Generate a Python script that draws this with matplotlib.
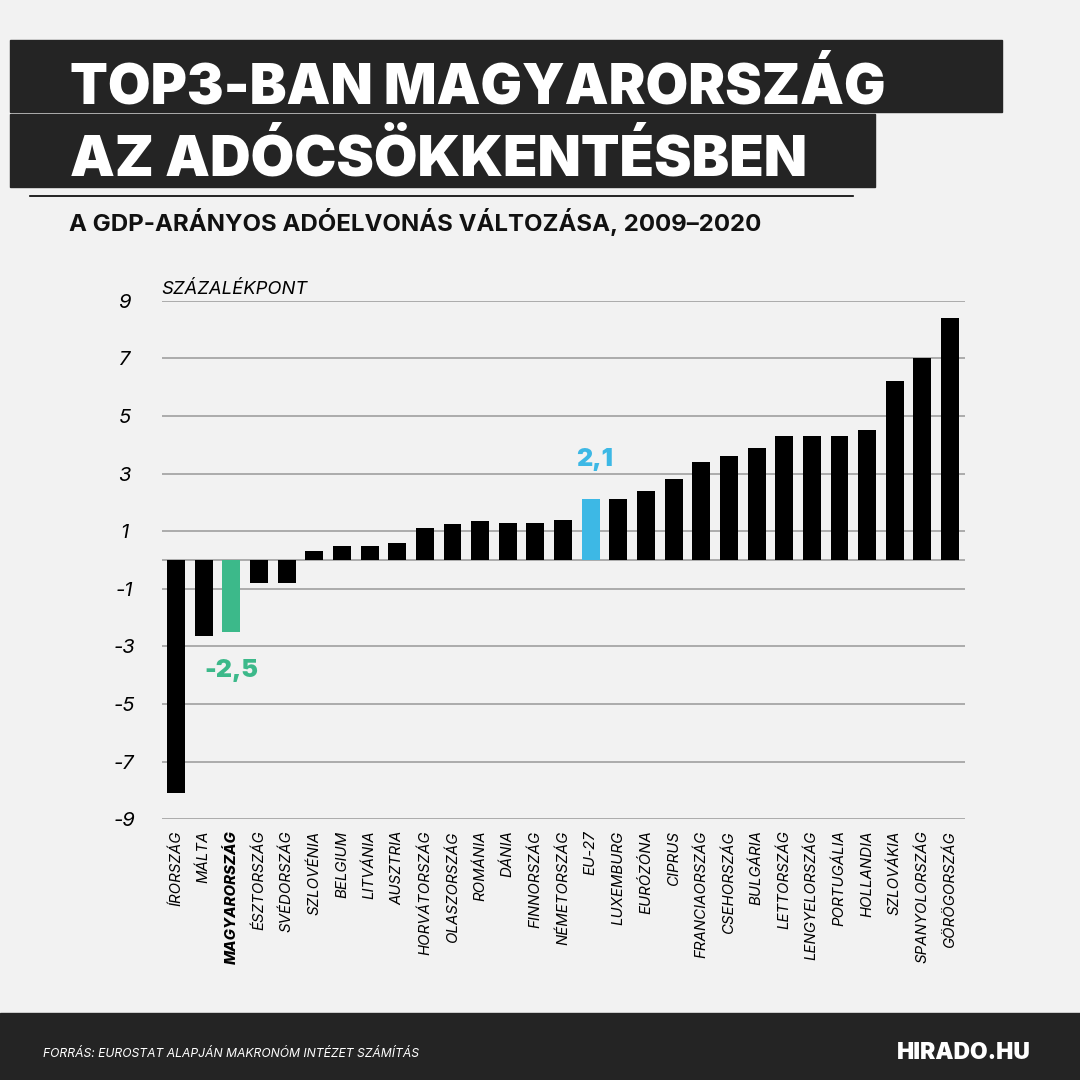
import matplotlib.pyplot as plt
from matplotlib.font_manager import FontProperties
from matplotlib.patches import Rectangle

# Adatok: GDP-arányos adóelvonás változása 2009-2020 (százalékpont)
COUNTRIES = [
    "ÍRORSZÁG", "MÁLTA", "MAGYARORSZÁG", "ÉSZTORSZÁG", "SVÉDORSZÁG",
    "SZLOVÉNIA", "BELGIUM", "LITVÁNIA", "AUSZTRIA", "HORVÁTORSZÁG",
    "OLASZORSZÁG", "ROMÁNIA", "DÁNIA", "FINNORSZÁG", "NÉMETORSZÁG",
    "EU-27", "LUXEMBURG", "EURÓZÓNA", "CIPRUS", "FRANCIAORSZÁG",
    "CSEHORSZÁG", "BULGÁRIA", "LETTORSZÁG", "LENGYELORSZÁG", "PORTUGÁLIA",
    "HOLLANDIA", "SZLOVÁKIA", "SPANYOLORSZÁG", "GÖRÖGORSZÁG",
]
VALUES = [
    -8.1, -2.65, -2.5, -0.8, -0.8,
    0.3, 0.5, 0.5, 0.6, 1.1,
    1.25, 1.35, 1.3, 1.3, 1.4,
    2.1, 2.1, 2.4, 2.8, 3.4,
    3.6, 3.9, 4.3, 4.3, 4.3,
    4.5, 6.2, 7.0, 8.4,
]
Y_TICKS = [9, 7, 5, 3, 1, -1, -3, -5, -7, -9]

HIGHLIGHT = {"MAGYARORSZÁG": "#3cb98a", "EU-27": "#3db8e5"}
LABEL_Y = {"MAGYARORSZÁG": -4.05, "EU-27": 3.27}

BG = "#f2f2f2"
DARK = "#242424"
FONT = "Inter"
W = H = 1080


def fp(size, weight="normal", style="normal"):
    return FontProperties(family=[FONT, "DejaVu Sans"], size=size,
                          weight=weight, style=style)


def fit_width(txt, target_px, renderer):
    """Scale the font size so the text is target_px wide."""
    for _ in range(3):
        bb = txt.get_window_extent(renderer=renderer)
        txt.set_fontsize(txt.get_fontsize() * target_px / bb.width)


def main() -> None:
    plt.rcParams["font.family"] = [FONT, "DejaVu Sans"]

    fig = plt.figure(figsize=(W / 100, H / 100), dpi=100, facecolor=BG)
    renderer = fig.canvas.get_renderer()

    # pixel overlay for boxes and headline texts
    bg = fig.add_axes([0, 0, 1, 1], zorder=0)
    bg.set_xlim(0, W)
    bg.set_ylim(H, 0)
    bg.axis("off")

    bg.add_patch(Rectangle((10, 40), 992, 72, color=DARK))
    bg.add_patch(Rectangle((10, 114), 865, 73, color=DARK))
    bg.add_patch(Rectangle((0, 1013), W, 67, color=DARK))
    bg.plot([30, 853], [196, 196], color="black", lw=1.2)

    t1 = bg.text(70, 104, "TOP3-BAN MAGYARORSZÁG", color="white",
                 fontproperties=fp(40, 900), va="baseline", ha="left")
    t2 = bg.text(70, 176, "AZ ADÓCSÖKKENTÉSBEN", color="white",
                 fontproperties=fp(40, 900), va="baseline", ha="left")
    t3 = bg.text(69, 231, "A GDP-ARÁNYOS ADÓELVONÁS VÁLTOZÁSA, 2009–2020",
                 color="#111111", fontproperties=fp(16, 700),
                 va="baseline", ha="left")
    t4 = bg.text(43, 1057, "FORRÁS: EUROSTAT ALAPJÁN MAKRONÓM INTÉZET SZÁMÍTÁS",
                 color="white", fontproperties=fp(9, style="italic"),
                 va="baseline", ha="left")
    t5 = bg.text(897, 1059, "HIRADO.HU", color="white",
                 fontproperties=fp(18, 900), va="baseline", ha="left")
    fit_width(t1, 815, renderer)
    fit_width(t2, 738, renderer)
    fit_width(t3, 693, renderer)
    fit_width(t4, 376, renderer)
    fit_width(t5, 133, renderer)

    # chart
    ax = fig.add_axes([161.7 / W, 1 - 819.3 / H, 803.3 / W, 518.6 / H], zorder=1)
    ax.patch.set_alpha(0)

    x = list(range(len(COUNTRIES)))
    colors = [HIGHLIGHT.get(c, "black") for c in COUNTRIES]
    ax.bar(x, VALUES, width=0.65, color=colors, zorder=3)

    for y in Y_TICKS + [0]:
        ax.axhline(y, color="#999999", lw=1.1, zorder=1)

    for name, col in HIGHLIGHT.items():
        i = COUNTRIES.index(name)
        lab = ax.text(i, LABEL_Y[name], f"{VALUES[i]:.1f}".replace(".", ","),
                      color=col, fontproperties=fp(18, 900),
                      ha="center", va="baseline", zorder=4)
        if name == "EU-27":
            lab.set_x(i + 0.15)

    ax.set_xlim(-0.52, len(COUNTRIES) - 0.46)
    ax.set_ylim(-9, 9)
    for s in ax.spines.values():
        s.set_visible(False)

    ax.set_yticks(Y_TICKS)
    ax.set_yticklabels([str(v) for v in Y_TICKS])
    ax.tick_params(axis="y", length=0, pad=27)
    for lab in ax.get_yticklabels():
        lab.set_fontproperties(fp(14.5, style="italic"))
        lab.set_horizontalalignment("center")

    ax.set_xticks(x)
    ax.set_xticklabels(COUNTRIES, rotation=90, va="top", ha="center")
    ax.tick_params(axis="x", length=0, pad=8)
    for name, lab in zip(COUNTRIES, ax.get_xticklabels()):
        weight = 800 if name == "MAGYARORSZÁG" else "normal"
        lab.set_fontproperties(fp(10.8, weight, "italic"))

    ax.text(0, 1.006, "SZÁZALÉKPONT", transform=ax.transAxes,
            fontproperties=fp(13.3, style="italic"), ha="left", va="bottom")

    fig.savefig("out.png", dpi=100, facecolor=BG)


if __name__ == "__main__":
    main()
